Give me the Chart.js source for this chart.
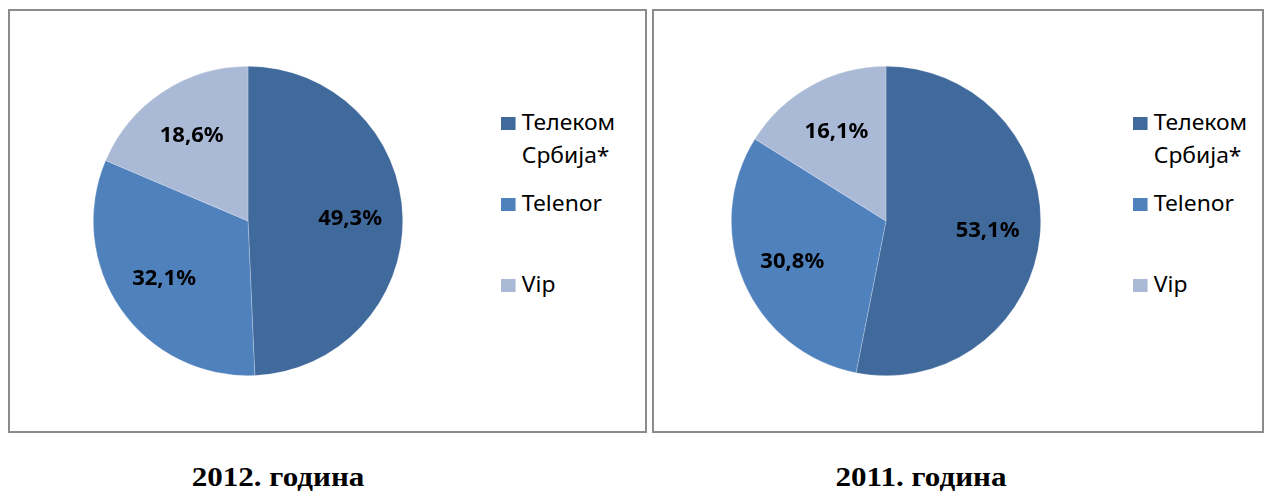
<!DOCTYPE html>
<html>
<head>
<meta charset="utf-8">
<script src="https://cdn.jsdelivr.net/npm/chart.js@4/dist/chart.umd.min.js"></script>
<style>
  html, body { margin: 0; padding: 0; background: #fff; }
  body { width: 1266px; height: 495px; position: relative; overflow: hidden; }
  .box { position: absolute; top: 9px; height: 420px; border: 2px solid #8c8c8c; box-sizing: content-box; }
  .pie { position: absolute; width: 312px; height: 312px; }
  .legend { position: absolute; top: 106px; font-family: "Noto Sans", sans-serif; font-size: 22px; color: #000; transform-origin: 0 0; transform: scaleX(1.04); }
  .legend .item { display: flex; align-items: flex-start; height: 81px; }
  .legend .sw { width: 14px; height: 13px; margin-top: 11px; margin-right: 6px; flex: none; }
  .legend .tx { width: 112px; line-height: 33px; margin-top: -1px; }
  .title { position: absolute; top: 462px; width: 300px; text-align: center; font-family: "Liberation Serif", "Times New Roman", serif; font-weight: bold; font-size: 27px; transform: scaleX(1.15); }
</style>
</head>
<body>
<div class="box" style="left:8px; width:635px;"></div>
<div class="box" style="left:652px; width:608px;"></div>
<div class="pie" style="left:92px; top:65px;"><canvas id="c2012"></canvas></div>
<div class="pie" style="left:730px; top:65px;"><canvas id="c2011"></canvas></div>
<div class="legend" id="leg2012" style="left:501px;"></div>
<div class="legend" id="leg2011" style="left:1133px;"></div>
<div class="title" id="t2012" style="left:128px;"></div>
<div class="title" id="t2011" style="left:771px;"></div>
<script>
const categories = ['Телеком Србија*', 'Telenor', 'Vip'];
const values2012 = [49.3, 32.1, 18.6];
const values2011 = [53.1, 30.8, 16.1];
const titles = ['2012. година', '2011. година'];
const colors = ['#40699C', '#4F81BD', '#AAB9D6'];

const labelPlugin = {
  id: 'sliceLabels',
  afterDatasetsDraw(chart) {
    const ctx = chart.ctx;
    const meta = chart.getDatasetMeta(0);
    const data = chart.data.datasets[0].data;
    ctx.save();
    ctx.font = 'bold 22px "Noto Sans", sans-serif';
    ctx.fillStyle = '#000';
    ctx.textAlign = 'center';
    ctx.textBaseline = 'middle';
    meta.data.forEach((arc, i) => {
      const p = arc.getProps(['x', 'y', 'startAngle', 'endAngle', 'outerRadius'], true);
      const mid = (p.startAngle + p.endAngle) / 2;
      const r = p.outerRadius * 0.66;
      const txt = data[i].toFixed(1).replace('.', ',') + '%';
      ctx.fillText(txt, p.x + Math.cos(mid) * r, p.y + Math.sin(mid) * r);
    });
    ctx.restore();
  }
};

function makePie(id, values) {
  new Chart(document.getElementById(id), {
    type: 'pie',
    data: {
      labels: categories,
      datasets: [{
        data: values,
        backgroundColor: colors,
        borderColor: 'rgba(255,255,255,0.4)',
        borderWidth: 0.6
      }]
    },
    options: {
      responsive: true,
      maintainAspectRatio: false,
      animation: false,
      layout: { padding: 1 },
      plugins: { legend: { display: false }, tooltip: { enabled: false } }
    },
    plugins: [labelPlugin]
  });
}

function makeLegend(id) {
  const el = document.getElementById(id);
  categories.forEach((c, i) => {
    const item = document.createElement('div');
    item.className = 'item';
    const sw = document.createElement('div');
    sw.className = 'sw';
    sw.style.background = colors[i];
    const tx = document.createElement('div');
    tx.className = 'tx';
    tx.textContent = c;
    item.appendChild(sw);
    item.appendChild(tx);
    el.appendChild(item);
  });
}

makePie('c2012', values2012);
makePie('c2011', values2011);
makeLegend('leg2012');
makeLegend('leg2011');
document.getElementById('t2012').textContent = titles[0];
document.getElementById('t2011').textContent = titles[1];
</script>
</body>
</html>
